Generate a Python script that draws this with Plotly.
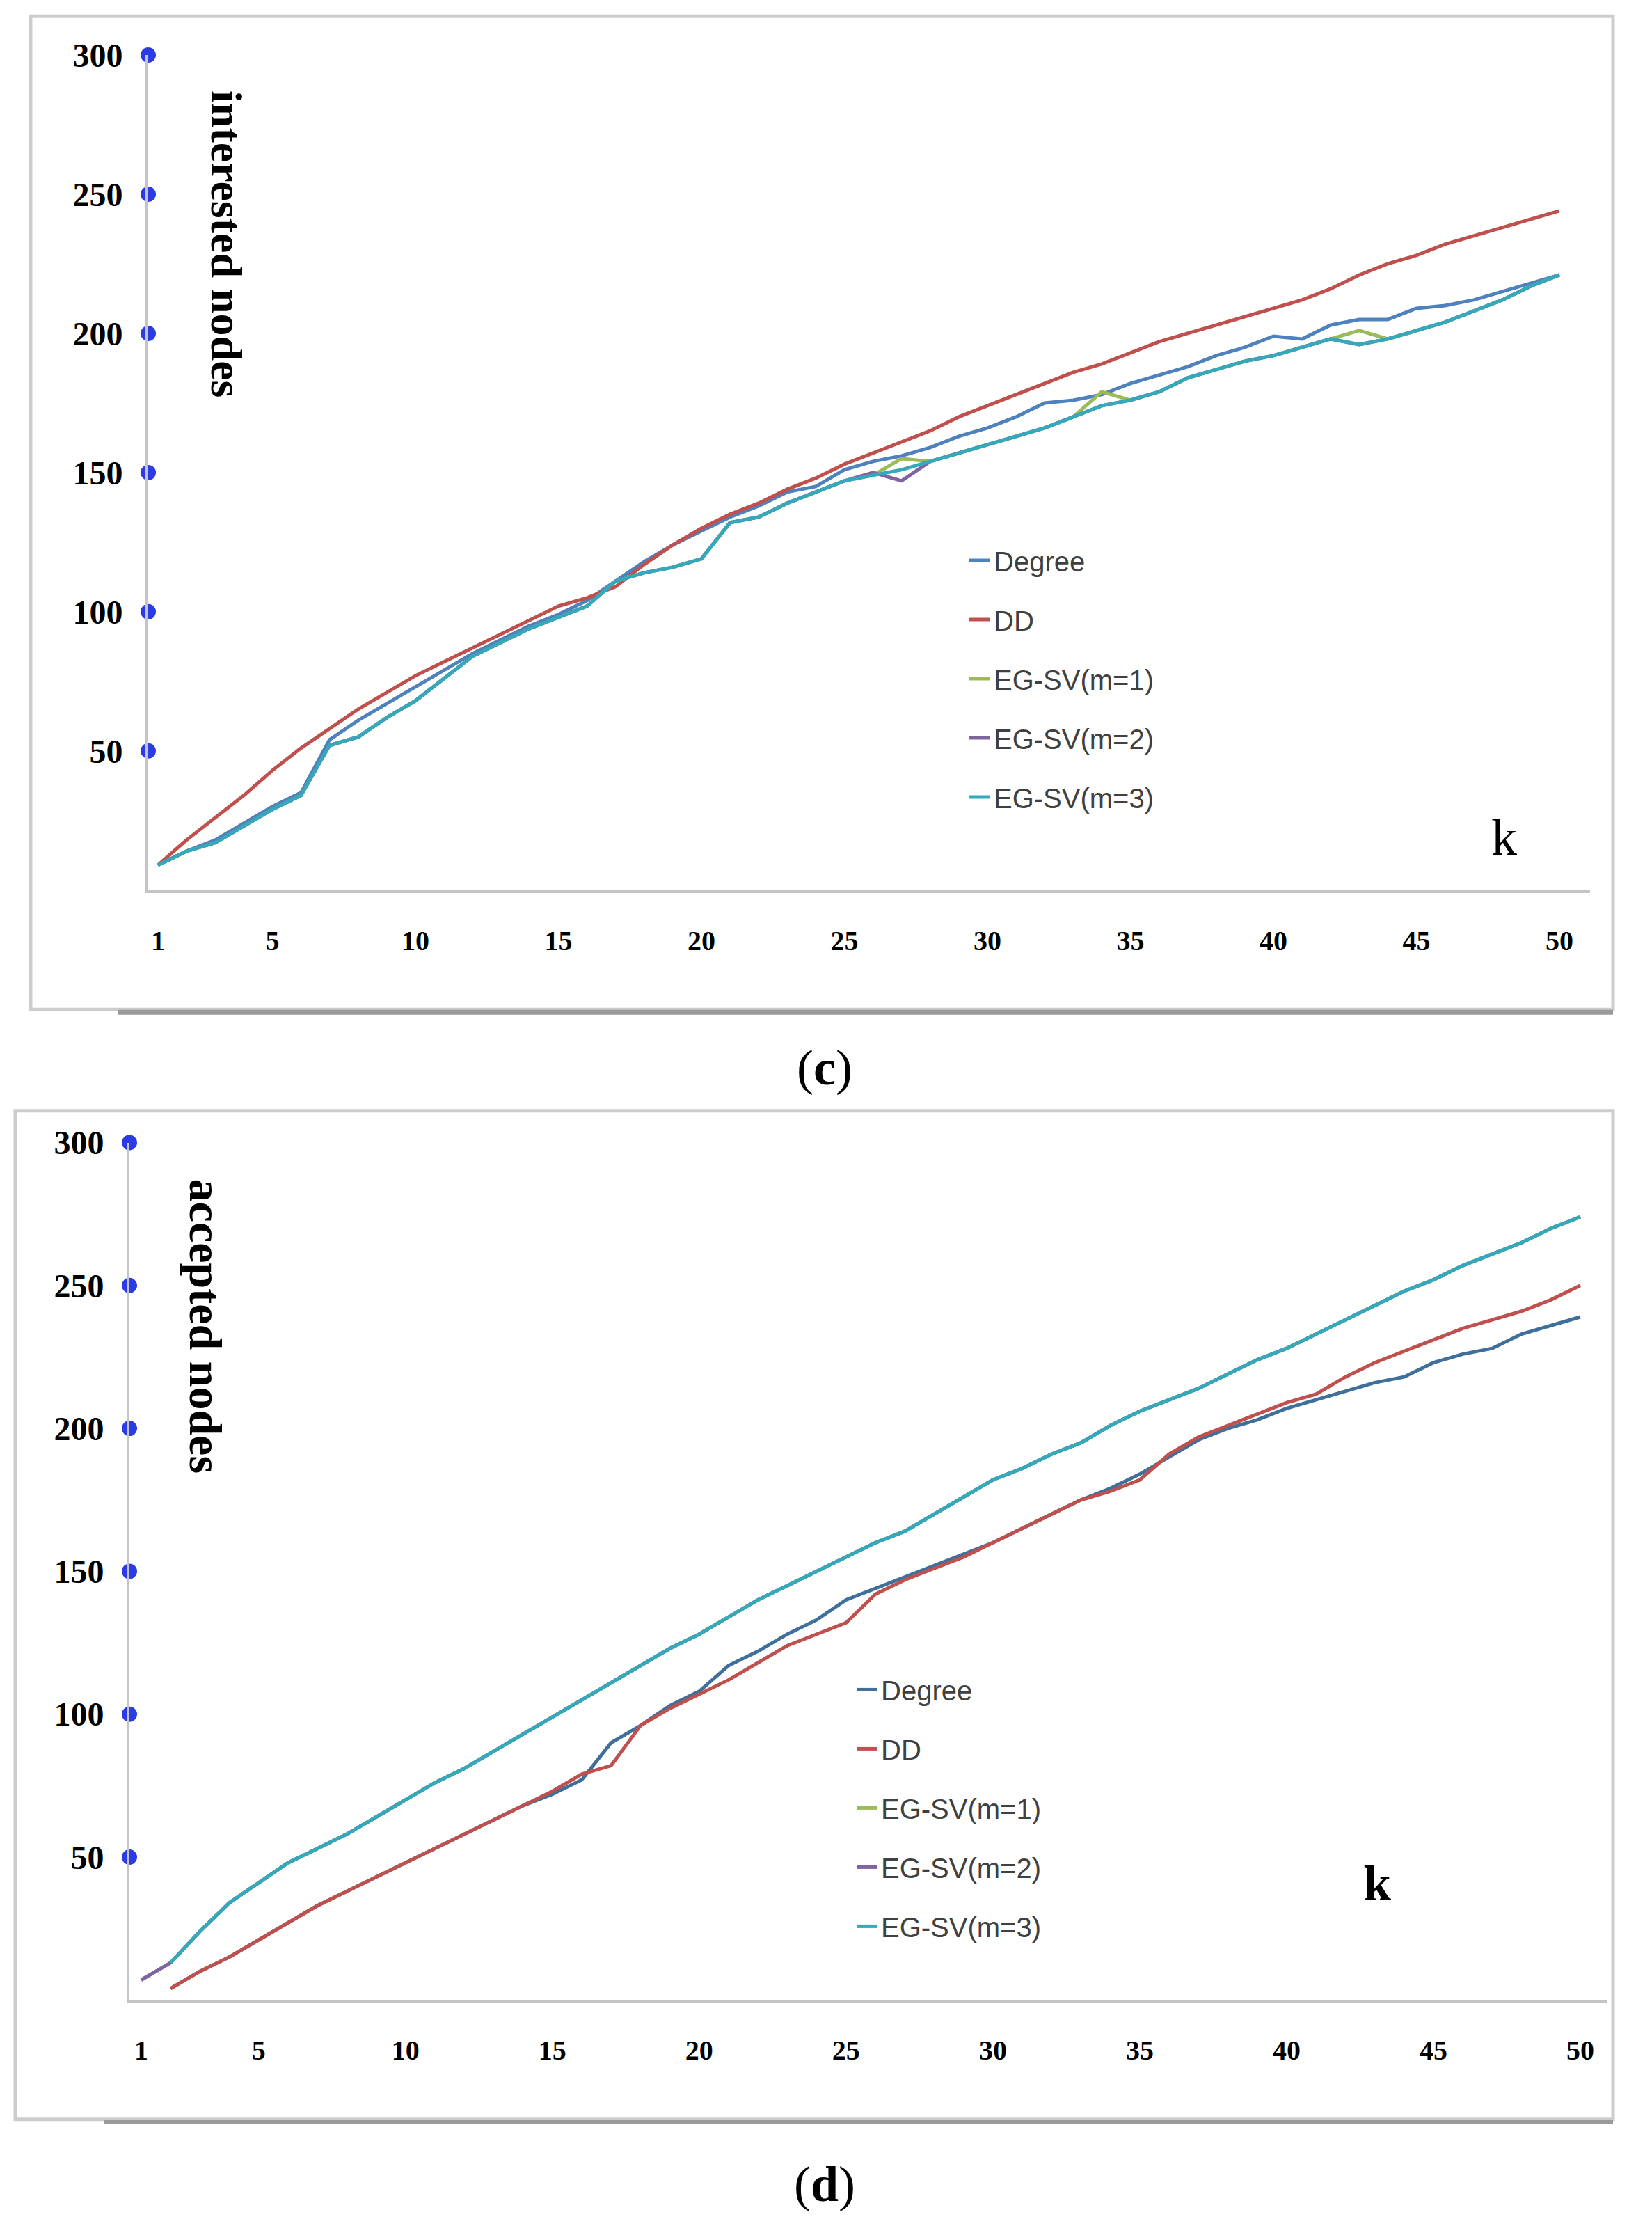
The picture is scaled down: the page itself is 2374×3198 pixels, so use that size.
import plotly.graph_objects as go
from plotly.subplots import make_subplots

# k = number of seeds
k_values = list(range(1, 51))
x_tick_vals = [1, 5, 10, 15, 20, 25, 30, 35, 40, 45, 50]
y_tick_vals = [50, 100, 150, 200, 250, 300]

series_names = ["Degree", "DD", "EG-SV(m=1)", "EG-SV(m=2)", "EG-SV(m=3)"]

# panel (c): interested nodes
c_degree = [9, 14, 18, 24, 30, 35, 54, 61, 67, 73, 79, 85, 90, 95, 99, 104, 111, 118, 124, 129,
            134, 138, 143, 145, 151, 154, 156, 159, 163, 166, 170, 175, 176, 178, 182, 185, 188, 192, 195, 199,
            198, 203, 205, 205, 209, 210, 212, 215, 218, 221]
c_dd = [9, 18, 26, 34, 43, 51, 58, 65, 71, 77, 82, 87, 92, 97, 102, 105, 109, 117, 124, 130,
        135, 139, 144, 148, 153, 157, 161, 165, 170, 174, 178, 182, 186, 189, 193, 197, 200, 203, 206, 209,
        212, 216, 221, 225, 228, 232, 235, 238, 241, 244]
c_m1 = [9, 14, 17, 23, 29, 34, 52, 55, 62, 68, 76, 84, 89, 94, 98, 102, 111, 114, 116, 119,
        132, 134, 139, 143, 147, 149, 155, 154, 157, 160, 163, 166, 170, 179, 176, 179, 184, 187, 190, 192,
        195, 198, 201, 198, 201, 204, 208, 212, 217, 221]
c_m2 = [9, 14, 17, 23, 29, 34, 52, 55, 62, 68, 76, 84, 89, 94, 98, 102, 111, 114, 116, 119,
        132, 134, 139, 143, 147, 150, 147, 154, 157, 160, 163, 166, 170, 174, 176, 179, 184, 187, 190, 192,
        195, 198, 196, 198, 201, 204, 208, 212, 217, 221]
c_m3 = [9, 14, 17, 23, 29, 34, 52, 55, 62, 68, 76, 84, 89, 94, 98, 102, 111, 114, 116, 119,
        132, 134, 139, 143, 147, 149, 151, 154, 157, 160, 163, 166, 170, 174, 176, 179, 184, 187, 190, 192,
        195, 198, 196, 198, 201, 204, 208, 212, 217, 221]

# panel (d): accepted nodes
d_degree = [None, 4, 10, 15, 21, 27, 33, 38, 43, 48, 53, 58, 63, 68, 72, 77, 90, 96, 103, 108,
            117, 122, 128, 133, 140, 144, 148, 152, 156, 160, 165, 170, 175, 179, 184, 190, 196, 200, 203, 207,
            210, 213, 216, 218, 223, 226, 228, 233, 236, 239]
d_dd = [None, 4, 10, 15, 21, 27, 33, 38, 43, 48, 53, 58, 63, 68, 73, 79, 82, 96, 102, 107,
        112, 118, 124, 128, 132, 142, 147, 151, 155, 160, 165, 170, 175, 178, 182, 191, 197, 201, 205, 209,
        212, 218, 223, 227, 231, 235, 238, 241, 245, 250]
d_m1 = [7, 13, 24, 34, 41, 48, 53, 58, 64, 70, 76, 81, 87, 93, 99, 105, 111, 117, 123, 128,
        134, 140, 145, 150, 155, 160, 164, 170, 176, 182, 186, 191, 195, 201, 206, 210, 214, 219, 224, 228,
        233, 238, 243, 248, 252, 257, 261, 265, 270, 274]
d_m2 = [7, 13, 24, 34, 41, 48, 53, 58, 64, 70, 76, 81, 87, 93, 99, 105, 111, 117, 123, 128,
        134, 140, 145, 150, 155, 160, 164, 170, 176, 182, 186, 191, 195, 201, 206, 210, 214, 219, 224, 228,
        233, 238, 243, 248, 252, 257, 261, 265, 270, 274]
d_m3 = [None, 13, 24, 34, 41, 48, 53, 58, 64, 70, 76, 81, 87, 93, 99, 105, 111, 117, 123, 128,
        134, 140, 145, 150, 155, 160, 164, 170, 176, 182, 186, 191, 195, 201, 206, 210, 214, 219, 224, 228,
        233, 238, 243, 248, 252, 257, 261, 265, 270, 274]

c_colors = ["#4F81BD", "#C0504D", "#9BBB59", "#8064A2", "#34A9BC"]
d_colors = ["#3F709B", "#C0504D", "#9BBB59", "#8064A2", "#34A9BC"]

W, H = 2374, 3198
serif = "Liberation Serif, Times New Roman, serif"
narrow = "Liberation Sans Narrow, Arial Narrow, Liberation Sans, sans-serif"


# pixel positions measured on the original page -> paper fractions
# (small correction for the page offset seen in the render)
def px(x):
    return (x - 10) / W


def py(y):
    return 1 - (y - 31 + 15 * y / H) / H


fig = make_subplots(rows=2, cols=1)

panels = [
    (1, "c", [c_degree, c_dd, c_m1, c_m2, c_m3], c_colors, "legend"),
    (2, "d", [d_degree, d_dd, d_m1, d_m2, d_m3], d_colors, "legend2"),
]
x_ranges = {1: [0.66, 51.07], 2: [0.6, 50.9]}

for row, tag, data, colors, leg in panels:
    for name, ys, col in zip(series_names, data, colors):
        fig.add_trace(
            go.Scatter(x=k_values, y=ys, mode="lines", name=name,
                       line=dict(color=col, width=5),
                       legend=leg, legendgroup=tag + name),
            row=row, col=1
        )
    # blue dots sitting on the y axis at each tick
    x0 = x_ranges[row][0]
    fig.add_trace(
        go.Scatter(x=[x0] * len(y_tick_vals), y=y_tick_vals, mode="markers",
                   marker=dict(color="#2B3BE6", size=22), cliponaxis=False,
                   showlegend=False, hoverinfo="skip"),
        row=row, col=1
    )

axis_common = dict(showline=True, linecolor="#C4C4C4", linewidth=4, showgrid=False,
                   zeroline=False, ticks="")
fig.update_xaxes(axis_common, tickvals=x_tick_vals,
                 tickfont=dict(family=serif, size=40, color="black", weight="bold"),
                 ticklabelstandoff=34)
fig.update_yaxes(axis_common, tickvals=y_tick_vals, range=[0, 300],
                 tickfont=dict(family=serif, size=48, color="black", weight="bold"),
                 ticklabelstandoff=23)

fig.update_xaxes(domain=[px(215), px(2287)], range=x_ranges[1], row=1, col=1)
fig.update_yaxes(domain=[py(1280), py(76)], row=1, col=1)
fig.update_xaxes(domain=[px(188), px(2311)], range=x_ranges[2], row=2, col=1)
fig.update_yaxes(domain=[py(2880), py(1644)], row=2, col=1)

legend_style = dict(font=dict(family=narrow, size=40, color="#404040"),
                    bgcolor="rgba(0,0,0,0)", tracegroupgap=30,
                    xanchor="left", yanchor="top")

# panel frames
frame = dict(type="rect", xref="paper", yref="paper", line=dict(color="#CDCDCD", width=5),
             fillcolor="rgba(0,0,0,0)", layer="below")
shadow = dict(type="line", xref="paper", yref="paper", line=dict(color="#9A9A9A", width=7))
shapes = [
    dict(frame, x0=px(46), x1=px(2320), y0=py(1452), y1=py(20)),
    dict(shadow, x0=px(172), x1=px(2320), y0=py(1456), y1=py(1456)),
    dict(frame, x0=px(24), x1=px(2320), y0=py(3052), y1=py(1598)),
    dict(shadow, x0=px(152), x1=px(2320), y0=py(3056), y1=py(3056)),
]

annotations = [
    dict(text="<b>interested nodes</b>", x=px(328), y=py(348), textangle=90,
         font=dict(family=serif, size=64, color="black")),
    dict(text="<b>accepted nodes</b>", x=px(297), y=py(1908), textangle=90,
         font=dict(family=serif, size=66, color="black")),
    dict(text="k", x=px(2163), y=py(1204), font=dict(family=serif, size=74, color="black")),
    dict(text="<b>k</b>", x=px(1981), y=py(2712), font=dict(family=serif, size=72, color="black")),
    dict(text="(<b>c</b>)", x=px(1187), y=py(1536), font=dict(family=serif, size=72, color="black")),
    dict(text="(<b>d</b>)", x=px(1187), y=py(3146), font=dict(family=serif, size=72, color="black")),
]
for a in annotations:
    a.update(xref="paper", yref="paper", showarrow=False, xanchor="center", yanchor="middle")

fig.update_layout(
    width=W, height=H,
    margin=dict(l=0, r=0, t=0, b=0),
    paper_bgcolor="white", plot_bgcolor="white",
    showlegend=True,
    legend=dict(legend_style, x=px(1390), y=py(772)),
    legend2=dict(legend_style, x=px(1228), y=py(2400)),
    shapes=shapes,
    annotations=annotations,
)

fig.write_html("out.html")
